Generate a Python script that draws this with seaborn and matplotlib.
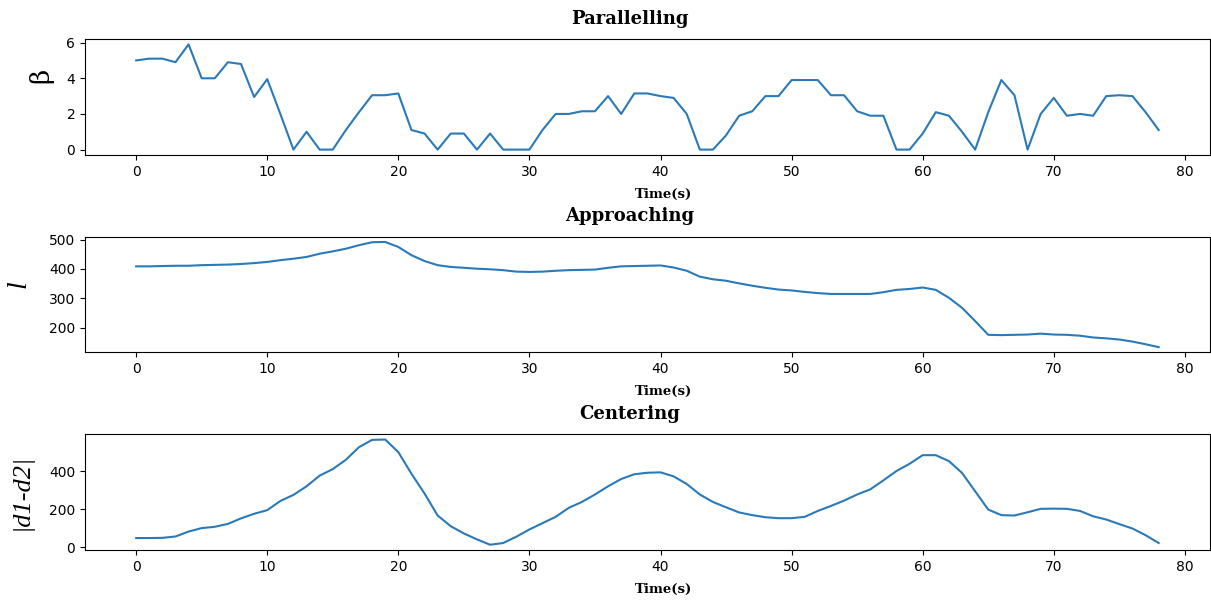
import numpy as np
import pandas as pd
import matplotlib
matplotlib.use("Agg")
import matplotlib.pyplot as plt
import seaborn as sns

# Time axis (seconds)
time_s = list(range(79))

# Parallelling angle beta
beta = [5.0, 5.1, 5.1, 4.9, 5.9, 4.0, 4.0, 4.9, 4.8, 2.95,
        3.95, 2.0, 0.0, 1.0, 0.0, 0.0, 1.1, 2.1, 3.05, 3.05,
        3.15, 1.1, 0.9, 0.0, 0.9, 0.9, 0.0, 0.9, 0.0, 0.0,
        0.0, 1.1, 2.0, 2.0, 2.15, 2.15, 3.0, 2.0, 3.15, 3.15,
        3.0, 2.9, 2.0, 0.0, 0.0, 0.8, 1.9, 2.15, 3.0, 3.0,
        3.9, 3.9, 3.9, 3.05, 3.05, 2.15, 1.9, 1.9, 0.0, 0.0,
        0.9, 2.1, 1.9, 1.0, 0.0, 2.1, 3.9, 3.05, 0.0, 2.0,
        2.9, 1.9, 2.0, 1.9, 3.0, 3.05, 3.0, 2.1, 1.1]

# Approaching distance l
dist_l = [409, 409, 410, 411, 411, 413, 414, 415, 417, 420,
          424, 430, 435, 441, 452, 460, 469, 481, 491, 492,
          475, 447, 427, 413, 407, 404, 401, 399, 396, 391,
          390, 391, 394, 396, 397, 398, 404, 409, 410, 411,
          412, 405, 394, 374, 365, 360, 351, 343, 336, 330,
          327, 322, 318, 315, 315, 315, 315, 321, 329, 332,
          337, 329, 302, 268, 223, 176, 175, 176, 177, 180,
          177, 176, 173, 167, 164, 160, 153, 144, 134]

# Centering offset |d1-d2|
center_diff = [49, 49, 50, 57, 83, 101, 108, 123, 152, 176,
               195, 243, 275, 320, 376, 410, 459, 525, 563, 565,
               499, 386, 282, 167, 111, 73, 42, 14, 23, 56,
               94, 127, 160, 207, 238, 277, 320, 358, 383, 391,
               393, 372, 332, 277, 238, 210, 183, 169, 158, 153,
               153, 160, 191, 217, 245, 277, 304, 351, 400, 438,
               483, 483, 452, 390, 294, 198, 169, 167, 184, 202,
               203, 202, 191, 163, 146, 122, 99, 64, 23]

titles = ["Parallelling", "Approaching", "Centering"]

df = pd.DataFrame({"t": time_s, "beta": beta, "l": dist_l, "c": center_diff})
cols = ["beta", "l", "c"]

fig, axes = plt.subplots(3, 1, figsize=(12.11, 6.02), dpi=100)
fig.subplots_adjust(left=0.0702, right=0.999, top=0.935, bottom=0.0864, hspace=0.707)

serif_bold = dict(family="DejaVu Serif", fontweight="bold")
for ax, col, title in zip(axes, cols, titles):
    sns.lineplot(data=df, x="t", y=col, ax=ax, color="#2a7ab9", linewidth=1.5)
    ax.set_title(title, fontsize=13, pad=11, x=0.484, **serif_bold)
    ax.set_xlabel("Time(s)", fontsize=9.5, **serif_bold)
    ax.xaxis.set_label_coords(0.514, -0.285)
    ax.set_xticks([0, 10, 20, 30, 40, 50, 60, 70, 80])

axes[0].set_ylabel("\u03b2", fontsize=19, family="DejaVu Serif")
axes[0].yaxis.set_label_coords(-0.028, 0.69)
axes[1].set_ylabel("l", fontsize=20, family="Liberation Serif", style="italic")
axes[1].yaxis.set_label_coords(-0.048, 0.59)
axes[2].set_ylabel("|d1-d2|", fontsize=19, family="Liberation Serif", style="italic")
axes[2].yaxis.set_label_coords(-0.047, 0.5)
axes[0].set_yticks([0, 2, 4, 6])
axes[1].set_yticks([200, 300, 400, 500])
axes[2].set_yticks([0, 200, 400])

fig.savefig("out.png", dpi=100)
